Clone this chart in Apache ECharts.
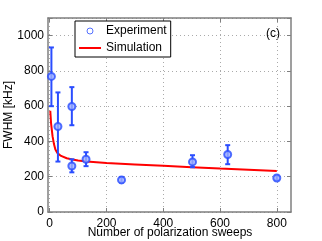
<!DOCTYPE html>
<html><head><meta charset="utf-8">
<script src="https://cdn.jsdelivr.net/npm/echarts@6/dist/echarts.min.js"></script>
<style>html,body{margin:0;padding:0;background:#fff}#c{width:322px;height:241px}</style>
</head><body><div id="c"></div>
<script>
var expX = [6, 29, 78, 78, 128, 253, 503, 627, 800];
var expY = [769, 485, 598, 261, 299, 182, 284, 326, 193];
var expLow = [600, 286, 492, 225, 260, 167, 254, 271, 180];
var expHigh = [933, 678, 708, 299, 339, 197, 322, 379, 206];
var simX = [2, 5, 10, 15, 20, 27, 40, 60, 80, 100, 130, 200, 300, 400, 500, 600, 700, 800];
var simY = [574, 500, 430, 385, 355, 335, 318, 305, 298, 292, 287, 278, 270, 262, 254, 246, 240, 232];
var xTicks = [0, 200, 400, 600, 800];
var yTicks = [0, 200, 400, 600, 800, 1000];

var font = 'Liberation Sans, Arial, sans-serif';
var axisCol = '#7f7f7f';
var blue = '#2a4dff';
var chart = echarts.init(document.getElementById('c'));
var expPts = expX.map(function(x, i){ return [x, expY[i]]; });
var errPts = expX.map(function(x, i){ return [x, expLow[i], expHigh[i]]; });
var simPts = simX.map(function(x, i){ return [x, simY[i]]; });

function baseX(pos, show){
  return {type:'value', position:pos, min:-6, max:850,
    axisLine:{show:true, onZero:false, lineStyle:{color:axisCol, width:1.5}},
    axisTick:{show:true, inside:true, length:4, lineStyle:{color:axisCol}, customValues:xTicks},
    axisLabel:{show:show, color:'#000', fontSize:12, fontFamily:font, margin:6, customValues:xTicks},
    splitLine:{show:show, lineStyle:{type:[1,3], color:'#aaa'}}
  };
}
function baseY(pos, show){
  return {type:'value', position:pos, min:0, max:1100, interval:200,
    axisLine:{show:true, onZero:false, lineStyle:{color:axisCol, width:1.5}},
    axisTick:{show:true, inside:true, length:4, lineStyle:{color:axisCol}},
    axisLabel:{show:show, color:'#000', fontSize:12, fontFamily:font, margin:4,
      formatter:function(v){ return yTicks.indexOf(v) >= 0 ? String(v) : ''; }},
    splitLine:{show:show, lineStyle:{type:[1,3], color:'#aaa'}}
  };
}

chart.setOption({
  animation:false,
  grid:{left:48, right:31, top:18, bottom:29, containLabel:false, outerBoundsMode:'none'},
  xAxis:[baseX('bottom', true), baseX('top', false)],
  yAxis:[baseY('left', true), baseY('right', false)],
  series:[
    {type:'line', name:'Simulation', data:simPts, symbol:'none', showSymbol:false, smooth:false,
      lineStyle:{color:'#ff0000', width:2}, itemStyle:{color:'#ff0000'}, z:3},
    {type:'custom', name:'err', data:errPts, z:4,
      renderItem:function(params, api){
        var x = api.value(0);
        var lo = api.coord([x, api.value(1)]);
        var hi = api.coord([x, api.value(2)]);
        var w = 2.5;
        var st = {stroke:blue, lineWidth:2};
        return {type:'group', children:[
          {type:'line', shape:{x1:lo[0], y1:lo[1], x2:hi[0], y2:hi[1]}, style:st},
          {type:'line', shape:{x1:lo[0]-w, y1:lo[1], x2:lo[0]+w, y2:lo[1]}, style:st},
          {type:'line', shape:{x1:hi[0]-w, y1:hi[1], x2:hi[0]+w, y2:hi[1]}, style:st}
        ]};
      }},
    {type:'scatter', name:'Experiment', data:expPts, symbol:'circle', symbolSize:7,
      itemStyle:{color:'#9fb0ff', borderColor:blue, borderWidth:2}, z:5}
  ],
  legend:{left:75, top:21, orient:'vertical', itemGap:5, itemWidth:22, itemHeight:6,
    padding:[4,4,3,4], borderColor:'#000', borderWidth:1, backgroundColor:'#fff',
    textStyle:{color:'#000', fontSize:12, fontFamily:font},
    data:[
      {name:'Experiment', icon:'circle', itemStyle:{color:'#fff', borderColor:blue, borderWidth:1}},
      {name:'Simulation', icon:'path://M0,0 L22,0 L22,2 L0,2 Z', itemStyle:{color:'#ff0000'}}
    ]},
  graphic:[
    {type:'text', left:266, top:28, style:{text:'(c)', fill:'#000', font:'12px '+font}},
    {type:'text', x:170, y:233, style:{text:'Number of polarization sweeps', fill:'#000',
      font:'12px '+font, align:'center', verticalAlign:'middle'}},
    {type:'text', x:9, y:115, rotation:Math.PI/2, style:{text:'FWHM [kHz]', fill:'#000',
      font:'12px '+font, align:'center', verticalAlign:'middle'}}
  ]
});
</script></body></html>
